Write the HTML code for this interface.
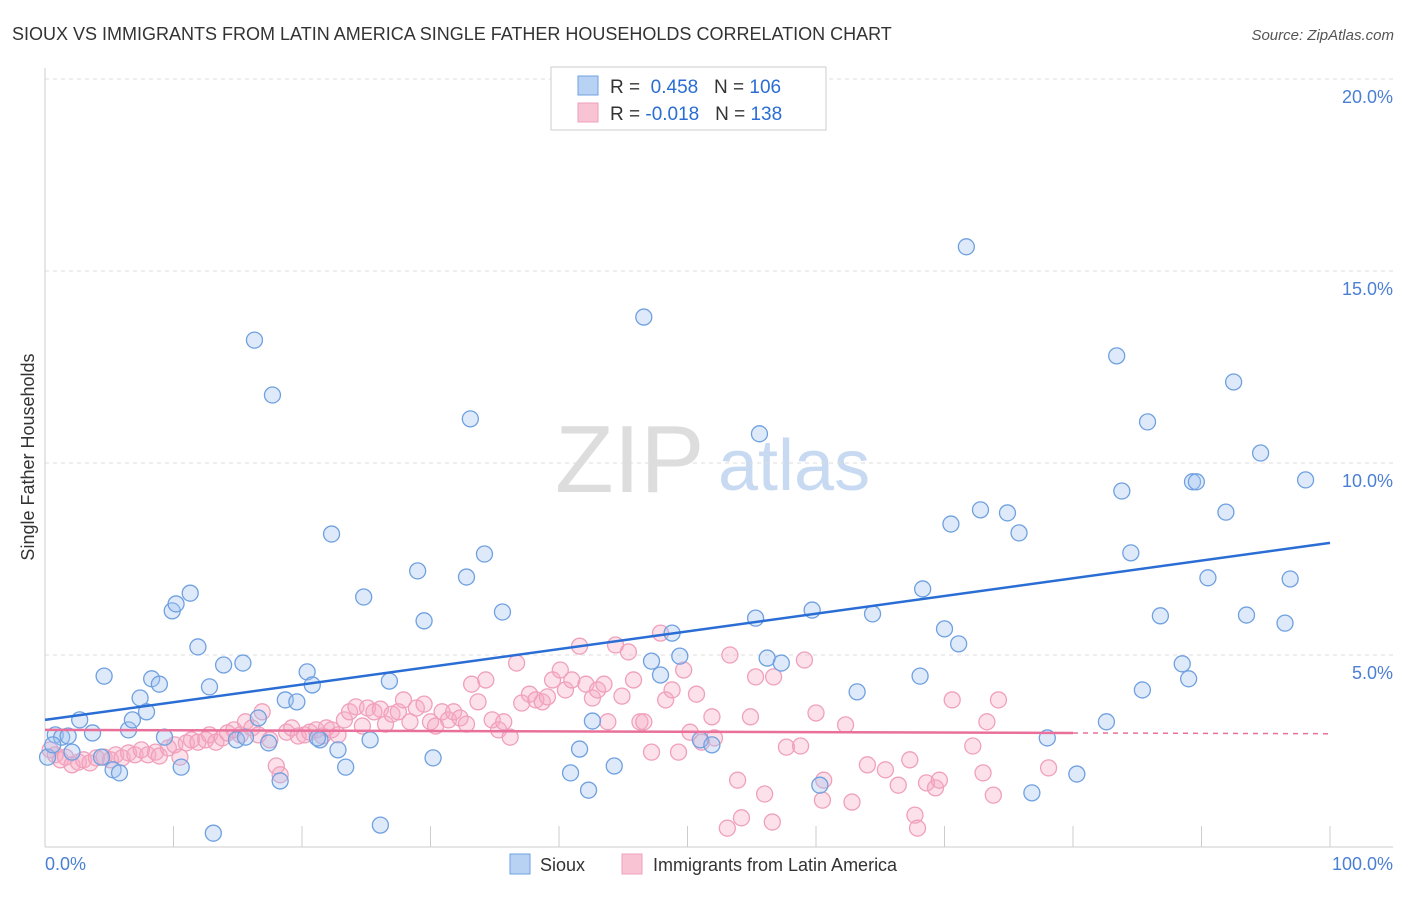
<!DOCTYPE html>
<html><head><meta charset="utf-8"><style>
body{margin:0;background:#fff;font-family:"Liberation Sans",sans-serif;}
svg text{font-family:"Liberation Sans",sans-serif;}
</style></head><body>
<svg width="1406" height="892" xmlns="http://www.w3.org/2000/svg">
<text x="12" y="40" font-size="18" fill="#333">SIOUX VS IMMIGRANTS FROM LATIN AMERICA SINGLE FATHER HOUSEHOLDS CORRELATION CHART</text>
<text x="1394" y="40" font-size="15" fill="#555" font-style="italic" text-anchor="end">Source: ZipAtlas.com</text>
<g>
<text x="555" y="492" font-size="96" fill="#ddd" font-family="Liberation Serif,serif">ZIP</text>
<text x="718" y="490" font-size="72" fill="#c8daf2">atlas</text>
</g>
<g id="grid"></g>
<g id="axes"></g>
<g id="pts"></g>
<g id="trends"></g>
<text transform="translate(34,457) rotate(-90)" font-size="18" fill="#333" text-anchor="middle">Single Father Households</text>
<text x="45" y="870" font-size="18" fill="#4a7fd4">0.0%</text>
<text x="1393" y="870" font-size="18" fill="#4a7fd4" text-anchor="end">100.0%</text>
<g>
<rect x="551" y="67" width="275" height="63" fill="#fff" stroke="#ccc"/>
<rect x="578" y="76" width="20" height="19" fill="#b8d2f4" stroke="#6fa0e0"/>
<rect x="578" y="103" width="20" height="19" fill="#f8c4d4" stroke="#f0a0bb"/>
<text x="610" y="93" font-size="19" fill="#333">R = <tspan fill="#2a6dd4">&#160;0.458</tspan>&#160;&#160;&#160;N = <tspan fill="#2a6dd4">106</tspan></text>
<text x="610" y="120" font-size="19" fill="#333">R = <tspan fill="#2a6dd4">-0.018</tspan>&#160;&#160;&#160;N = <tspan fill="#2a6dd4">138</tspan></text>
</g>
<g>
<rect x="510" y="854" width="20" height="20" fill="#b8d2f4" stroke="#6fa0e0"/>
<text x="540" y="871" font-size="18" fill="#333">Sioux</text>
<rect x="622" y="854" width="20" height="20" fill="#f8c4d4" stroke="#f0a0bb"/>
<text x="653" y="871" font-size="18" fill="#333">Immigrants from Latin America</text>
</g>
</svg>
<script>
const yTicks=[5,10,15,20];
const yTickLabels=["5.0%","10.0%","15.0%","20.0%"];
const xTicks=[0,10,20,30,40,50,60,70,80,90,100];
const blueX=[0.8,1.3,1.8,3.7,2.7,2.1,4.4,5.3,5.8,6.5,6.8,7.4,7.9,8.3,8.9,4.6,9.9,10.2,11.3,11.9,12.8,13.9,15.4,14.9,15.6,16.6,17.4,16.3,17.7,18.3,18.7,19.6,20.4,20.8,21.4,21.2,22.3,22.8,23.4,24.8,25.3,26.8,26.1,29.0,29.5,30.2,13.1,10.6,9.3,33.1,32.8,34.2,35.6,40.9,41.6,42.3,42.6,44.3,46.6,47.2,47.9,48.8,49.4,51.0,51.9,55.3,55.6,56.2,57.3,59.7,60.3,63.2,64.4,68.1,68.3,70.0,70.5,71.1,71.7,72.8,74.9,75.8,76.8,78.0,80.3,82.6,83.4,83.8,84.5,85.4,85.8,86.8,88.5,89.0,89.3,89.6,90.5,91.9,92.5,93.5,94.6,96.5,96.9,98.1,0.2,0.6];
const blueY=[2.92,2.86,2.89,2.97,3.31,2.47,2.34,2.01,1.93,3.05,3.31,3.88,3.52,4.38,4.24,4.45,6.15,6.33,6.61,5.21,4.17,4.74,4.79,2.79,2.86,3.36,2.71,13.2,11.77,1.72,3.83,3.78,4.56,4.22,2.79,2.84,8.15,2.53,2.08,6.51,2.79,4.32,0.57,7.19,5.89,2.32,0.36,2.08,2.86,11.15,7.03,7.63,6.12,1.93,2.55,1.48,3.28,2.11,13.8,4.84,4.48,5.57,4.97,2.79,2.66,5.96,10.76,4.92,4.79,6.17,1.61,4.04,6.07,4.45,6.72,5.68,8.41,5.29,15.63,8.78,8.70,8.18,1.41,2.84,1.90,3.26,12.79,9.27,7.66,4.09,11.07,6.02,4.77,4.38,9.51,9.51,7.01,8.72,12.11,6.04,10.26,5.83,6.98,9.56,2.34,2.66];
const pinkX=[0.4,0.8,1.2,1.6,2.1,2.6,3.0,3.5,4.0,4.6,5.1,5.5,6.0,6.5,7.0,7.5,8.0,8.6,8.9,9.6,10.1,10.5,11.0,11.4,11.9,12.5,12.8,13.3,13.8,14.2,14.7,15.2,15.6,16.1,16.6,16.9,17.5,18.0,18.3,18.8,19.2,19.7,20.2,20.6,21.1,21.6,21.9,22.3,22.8,23.3,23.7,24.2,24.7,25.1,25.6,26.1,26.5,27.0,27.5,27.9,28.4,28.9,29.5,30.0,30.4,30.9,31.4,31.8,32.3,32.8,33.2,33.7,34.3,34.8,35.3,35.7,36.2,36.7,37.1,37.7,38.2,38.7,39.1,39.5,40.1,40.5,41.0,41.6,42.1,42.6,43.0,43.5,43.8,44.4,44.9,45.4,45.8,46.3,46.6,47.2,47.9,48.3,48.8,49.3,49.7,50.2,50.7,51.1,51.9,52.1,53.1,53.3,53.9,54.2,54.9,55.3,56.0,56.6,56.7,57.7,58.8,59.1,60.0,60.6,60.5,62.3,62.8,64.0,65.4,66.4,67.3,67.7,67.9,68.6,69.3,69.6,70.6,72.2,73.0,73.3,73.8,74.2,78.1];
const pinkY=[2.53,2.40,2.27,2.34,2.14,2.21,2.27,2.19,2.32,2.34,2.27,2.40,2.32,2.45,2.40,2.53,2.40,2.47,2.37,2.58,2.66,2.34,2.71,2.79,2.73,2.79,2.92,2.73,2.84,2.97,3.05,2.92,3.26,3.10,2.92,3.52,2.79,2.11,1.88,2.99,3.10,2.89,2.92,2.99,3.05,2.89,3.10,3.05,2.92,3.31,3.52,3.65,3.15,3.62,3.52,3.59,3.20,3.46,3.52,3.83,3.26,3.62,3.72,3.26,3.15,3.52,3.31,3.52,3.36,3.20,4.24,3.78,4.35,3.31,3.05,3.26,2.86,4.79,3.75,3.98,3.83,3.78,3.91,4.35,4.61,4.09,4.35,5.23,4.24,3.88,4.09,4.24,3.26,5.26,3.93,5.08,4.35,3.26,3.26,2.47,5.57,3.83,4.09,2.47,4.61,2.99,3.98,2.73,3.39,2.84,0.49,5.00,1.74,0.76,3.39,4.43,1.38,0.65,4.43,2.60,2.63,4.87,3.49,1.74,1.22,3.18,1.17,2.14,2.01,1.61,2.27,0.83,0.49,1.67,1.54,1.74,3.83,2.63,1.93,3.26,1.35,3.83,2.06];
const blueTrend=[3.31,7.92];
const pinkTrend=[3.05,2.97,2.95];
const NS="http://www.w3.org/2000/svg";
const sx=v=>45+v*12.85, sy=v=>847-v*38.4;
function mk(tag,attrs,parent){const e=document.createElementNS(NS,tag);for(const k in attrs)e.setAttribute(k,attrs[k]);parent.appendChild(e);return e;}
const grid=document.getElementById('grid'),axes=document.getElementById('axes'),pts=document.getElementById('pts'),tr=document.getElementById('trends');
yTicks.forEach((t,i)=>{
 const l=mk('line',{x1:45,x2:1393,y1:sy(t),y2:sy(t),stroke:'#ddd','stroke-dasharray':'4,4'},grid);
 
 
 const tx=mk('text',{x:1393,y:sy(t)+24,'font-size':18,fill:'#4a7fd4','text-anchor':'end'},grid);
 tx.textContent=yTickLabels[i];
 
 
});
const al=mk('line',{x1:45,x2:45,y1:68,y2:847,stroke:'#ccc'},axes);


const bl=mk('line',{x1:45,x2:1393,y1:847,y2:847,stroke:'#ccc'},axes);


xTicks.forEach(t=>{const l=mk('line',{x1:sx(t),x2:sx(t),y1:826,y2:847,stroke:'#ccc'},axes);
 
 });
pinkX.forEach((x,i)=>{const c=mk('circle',{cx:sx(x),cy:sy(pinkY[i]),r:8,fill:'rgba(245,170,195,0.35)',stroke:'#f0a0bb','stroke-width':1.3},pts);
 
 });
blueX.forEach((x,i)=>{const c=mk('circle',{cx:sx(x),cy:sy(blueY[i]),r:8,fill:'rgba(160,195,240,0.35)',stroke:'#6fa0e0','stroke-width':1.3},pts);
 
 });
const b=mk('line',{x1:sx(0),y1:sy(blueTrend[0]),x2:sx(100),y2:sy(blueTrend[1]),stroke:'#2a6dd4','stroke-width':2.5},tr);


const p=mk('line',{x1:sx(0),y1:sy(pinkTrend[0]),x2:sx(80),y2:sy(pinkTrend[1]),stroke:'#e8709a','stroke-width':2.5},tr);


const pd=mk('line',{x1:sx(80),y1:sy(pinkTrend[1]),x2:sx(100),y2:sy(pinkTrend[2]),stroke:'#e8709a','stroke-width':1.5,'stroke-dasharray':'5,5'},tr);


</script>
</body></html>
